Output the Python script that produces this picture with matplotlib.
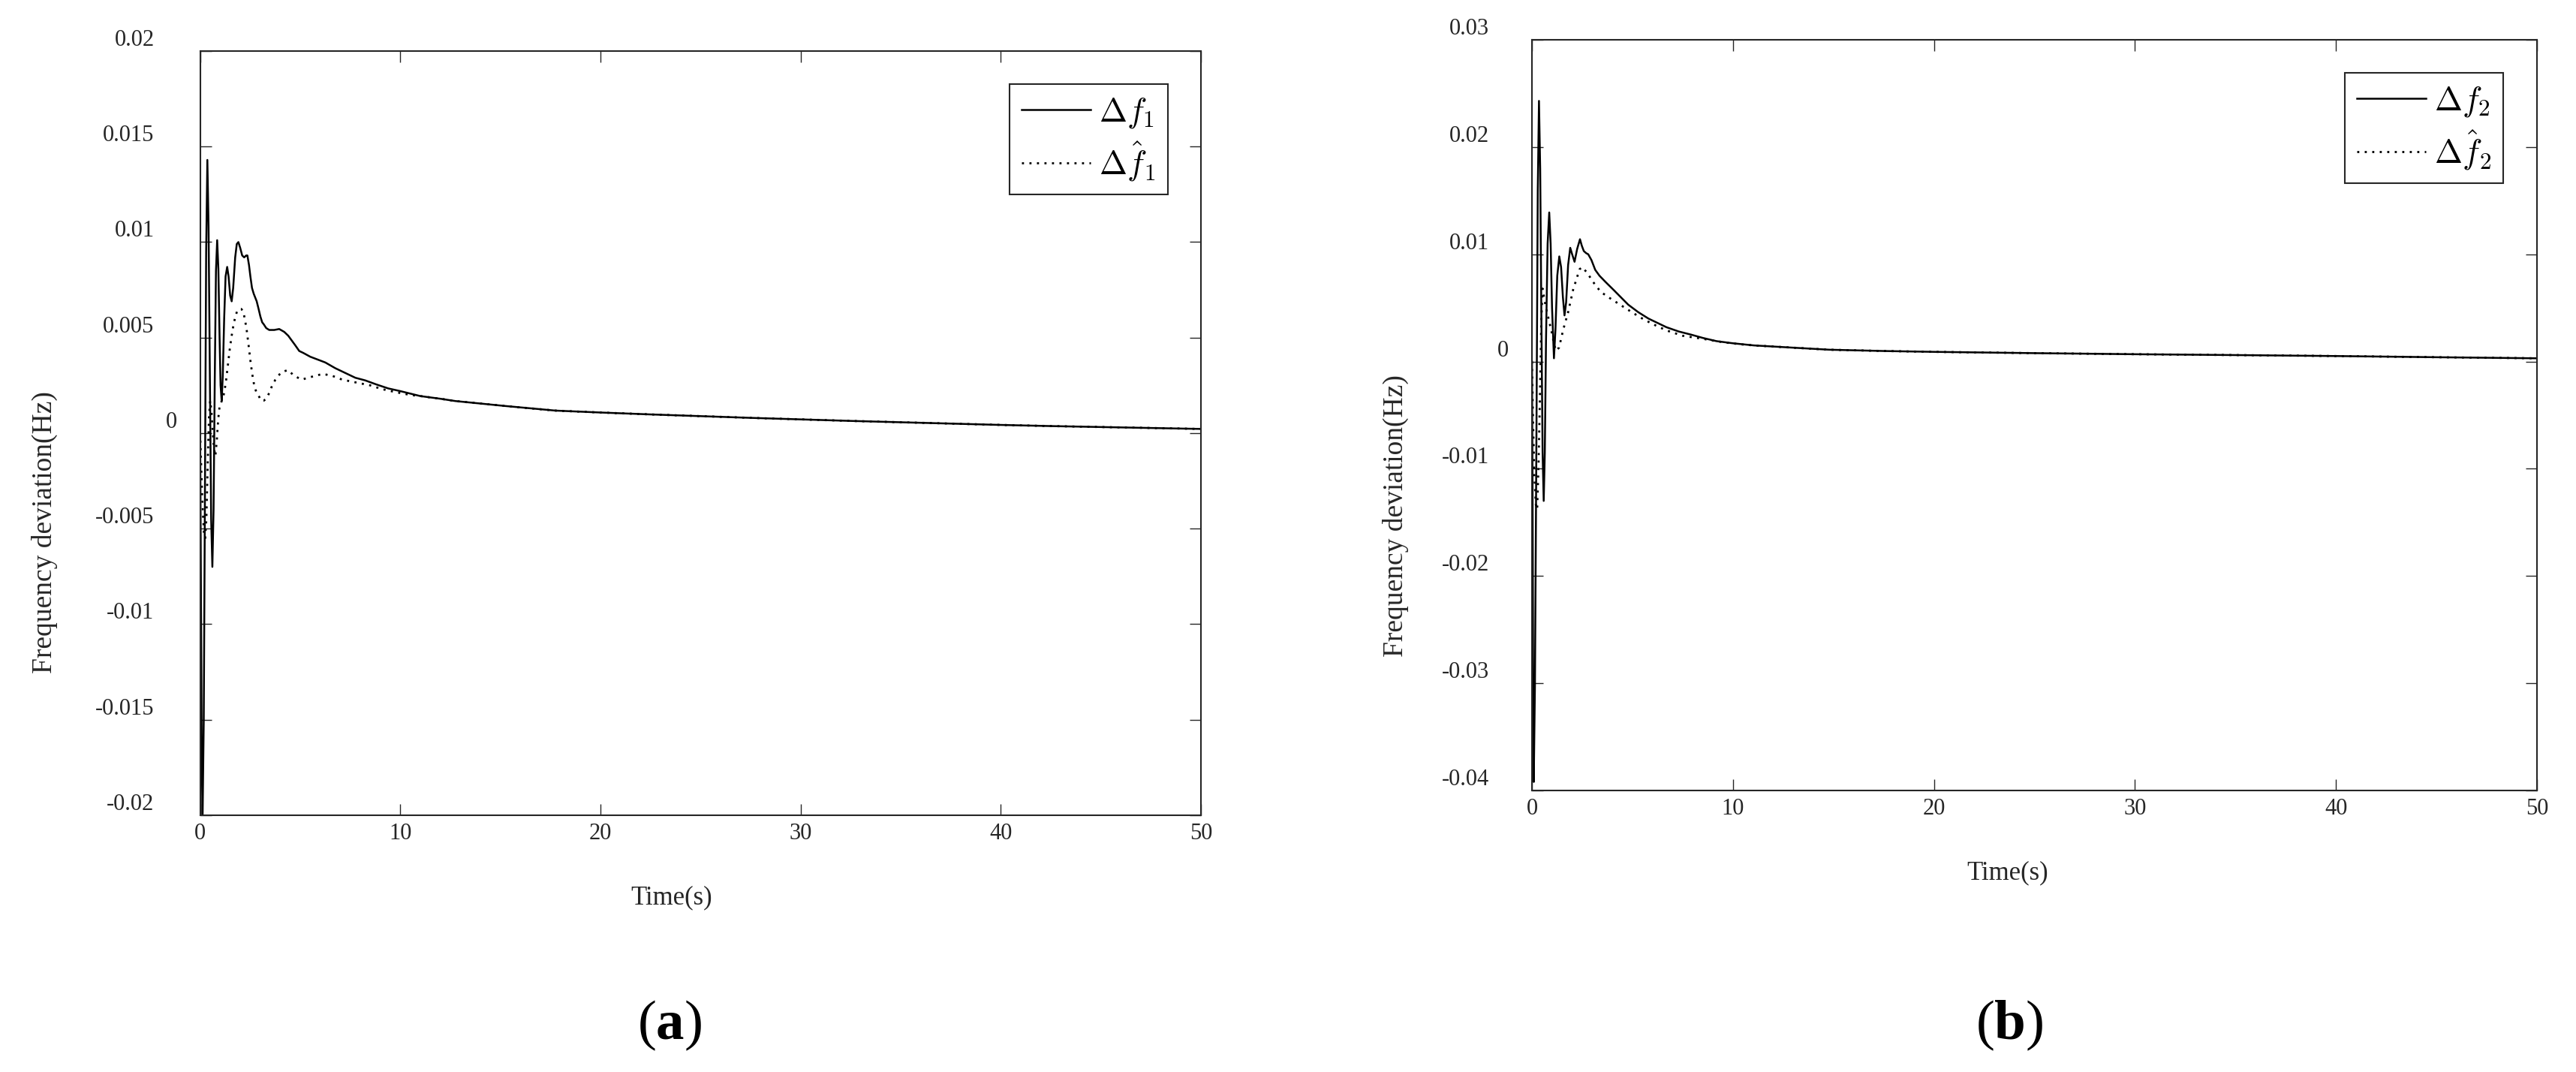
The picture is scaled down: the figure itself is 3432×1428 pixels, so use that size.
import matplotlib
matplotlib.use("Agg")
import matplotlib.pyplot as plt
from matplotlib.transforms import ScaledTranslation

plt.rcParams['font.family'] = 'Liberation Serif'
plt.rcParams['mathtext.fontset'] = 'cm'
plt.rcParams['mathtext.rm'] = 'Liberation Serif'
plt.rcParams['mathtext.bf'] = 'Liberation Serif:bold'
plt.rcParams['axes.unicode_minus'] = False

AXCOLOR = '#262626'

# ---------------- data ----------------
# panel (a): area 1
t_a_solid = [0, 0.04, 0.08, 0.12, 0.18, 0.24, 0.30, 0.36, 0.42, 0.48, 0.55, 0.61,
             0.67, 0.73, 0.79, 0.85, 0.91, 0.97, 1.02, 1.075, 1.13, 1.2, 1.27, 1.35,
             1.42, 1.5, 1.575, 1.65, 1.75, 1.83, 1.91, 2.0, 2.1, 2.2, 2.3, 2.36,
             2.44, 2.51, 2.59, 2.675, 2.75, 2.825, 2.92, 3.01, 3.1, 3.175, 3.3, 3.45,
             3.7, 3.95, 4.2, 4.4, 4.575, 4.75, 4.95, 5.15, 5.325, 5.5, 5.75, 6.0,
             6.25, 6.75, 7.25, 7.75, 8.25, 8.8, 9.4, 10.0, 11.0, 12.0, 12.75, 14.0,
             15.25, 16.5, 17.75, 20, 22.5, 25, 27.5, 30, 32.5, 35, 37.5, 40,
             42.5, 45, 47.5, 50]
f_a_solid = [0, -0.008, -0.017, -0.0203, -0.015, -0.003, 0.0095, 0.0143, 0.0108, 0.0036, -0.0045, -0.0070,
             -0.0040, 0.0028, 0.0085, 0.0101, 0.0086, 0.0050, 0.0025, 0.0017, 0.0030, 0.0060, 0.0082, 0.0087,
             0.0082, 0.0072, 0.0069, 0.0076, 0.0092, 0.0099, 0.0100, 0.0097, 0.0093, 0.0092, 0.0093, 0.0093,
             0.0088, 0.0082, 0.0076, 0.0073, 0.0071, 0.0069, 0.0065, 0.0061, 0.0058, 0.0057, 0.0055, 0.0054,
             0.0054, 0.00545, 0.0053, 0.0051, 0.00485, 0.0046, 0.0043, 0.0042, 0.0041, 0.0040, 0.0039, 0.0038,
             0.0037, 0.0034, 0.00315, 0.0029, 0.00276, 0.00255, 0.00234, 0.0022, 0.00194, 0.0018, 0.00168, 0.00155,
             0.00142, 0.0013, 0.00118, 0.00108, 0.00098, 0.00089, 0.0008, 0.00072, 0.00064, 0.00057, 0.0005, 0.00043,
             0.00037, 0.00032, 0.00027, 0.00022]

t_a_est = [0, 0.06, 0.12, 0.19, 0.25, 0.31, 0.38, 0.44, 0.5, 0.56, 0.62, 0.69,
           0.76, 0.83, 0.9, 0.97, 1.05, 1.2, 1.3, 1.39, 1.48, 1.575, 1.67, 1.76,
           1.85, 1.95, 2.05, 2.14, 2.23, 2.325, 2.42, 2.51, 2.6, 2.7, 2.82, 2.95,
           3.05, 3.175, 3.3, 3.45, 3.6, 3.76, 3.9, 4.075, 4.39, 4.7, 5.075, 5.39,
           5.75, 6.125, 6.6, 7.1, 7.8, 8.5, 9.1, 9.75, 10.5, 11.0, 12.0, 12.75,
           14.0, 15.25, 16.5, 17.75, 20, 22.5, 25, 27.5, 30, 32.5, 35, 37.5,
           40, 42.5, 45, 47.5, 50]
f_a_est = [0, -0.002, -0.0038, -0.0052, -0.0055, -0.0045, -0.0015, 0.0008, 0.0017, 0.0012, 0.0002, -0.0008,
           -0.0012, -0.0004, 0.0007, 0.0014, 0.0016, 0.0021, 0.0028, 0.0036, 0.0044, 0.0051, 0.0057, 0.0061,
           0.0064, 0.0065, 0.0065, 0.0064, 0.0060, 0.0054, 0.0046, 0.0038, 0.0031, 0.0025, 0.0021, 0.0019,
           0.0017, 0.0017, 0.0018, 0.0021, 0.0025, 0.0028, 0.0030, 0.0032, 0.0033, 0.0030, 0.0028, 0.0029,
           0.0030, 0.0031, 0.0030, 0.0028, 0.00265, 0.0025, 0.0023, 0.00215, 0.0020, 0.00194, 0.0018, 0.00168,
           0.00155, 0.00142, 0.0013, 0.00118, 0.00108, 0.00098, 0.00089, 0.0008, 0.00072, 0.00064, 0.00057, 0.0005,
           0.00043, 0.00037, 0.00032, 0.00027, 0.00022]

# panel (b): area 2
t_b_solid = [0, 0.03, 0.06, 0.09, 0.15, 0.22, 0.29, 0.35, 0.41, 0.47, 0.53, 0.585,
             0.64, 0.7, 0.78, 0.86, 0.93, 1.0, 1.095, 1.17, 1.26, 1.36, 1.45, 1.54,
             1.62, 1.7, 1.8, 1.905, 2.0, 2.12, 2.25, 2.39, 2.48, 2.58, 2.7, 2.8,
             2.96, 3.15, 3.36, 3.67, 4.05, 4.42, 4.79, 5.29, 5.8, 6.69, 7.3, 7.93,
             8.5, 9.18, 10.0, 11.05, 12.9, 14.8, 17.5, 20, 25, 30, 35, 40,
             45, 50]
f_b_solid = [0, -0.012, -0.030, -0.0392, -0.030, -0.008, 0.016, 0.0243, 0.0180, 0.0040, -0.0085, -0.0130,
             -0.0085, 0.0020, 0.0110, 0.0139, 0.0110, 0.0050, 0.0003, 0.0030, 0.0080, 0.0098, 0.0088, 0.0060,
             0.0043, 0.0055, 0.0090, 0.0106, 0.0100, 0.0093, 0.0105, 0.0114, 0.0108, 0.0103, 0.0101, 0.0100,
             0.00946, 0.00854, 0.0080, 0.0074, 0.0067, 0.0060, 0.0053, 0.0046, 0.0040, 0.0032, 0.0028, 0.0025,
             0.0022, 0.0019, 0.0017, 0.0015, 0.0013, 0.0011, 0.00098, 0.0009, 0.00078, 0.00068, 0.0006, 0.00051,
             0.0004, 0.0003]

t_b_est = [0, 0.06, 0.12, 0.19, 0.26, 0.33, 0.4, 0.47, 0.53, 0.6, 0.7, 0.85,
           1.0, 1.1, 1.2, 1.35, 1.56, 1.8, 2.05, 2.37, 2.49, 2.74, 3.05, 3.42,
           3.8, 4.3, 4.8, 5.4, 6.0, 6.69, 7.5, 8.55, 9.5, 10.4, 11.05, 12.9,
           14.8, 17.5, 20, 25, 30, 35, 40, 45, 50]
f_b_est = [0, -0.006, -0.0105, -0.0133, -0.0138, -0.0095, -0.0030, 0.0040, 0.0068, 0.0060, 0.0050, 0.0038,
           0.0026, 0.0016, 0.0010, 0.0013, 0.0030, 0.0046, 0.0067, 0.0086, 0.0088, 0.0083, 0.0074, 0.0065,
           0.0060, 0.0054, 0.0048, 0.0041, 0.0035, 0.0029, 0.0024, 0.0021, 0.0018, 0.0016, 0.0015, 0.0013,
           0.0011, 0.00098, 0.0009, 0.00078, 0.00068, 0.0006, 0.00051, 0.0004, 0.0003]

x_ticks = [0, 10, 20, 30, 40, 50]
y_ticks_a = [-0.02, -0.015, -0.01, -0.005, 0, 0.005, 0.01, 0.015, 0.02]
y_labels_a = ['-0.02', '-0.015', '-0.01', '-0.005', '0', '0.005', '0.01', '0.015', '0.02']
y_ticks_b = [-0.04, -0.03, -0.02, -0.01, 0, 0.01, 0.02, 0.03]
y_labels_b = ['-0.04', '-0.03', '-0.02', '-0.01', '0', '0.01', '0.02', '0.03']

# ---------------- figure ----------------
fig = plt.figure(figsize=(34.32, 14.28), dpi=100)
ax_a = fig.add_axes([0.0777, 0.2395, 0.3885, 0.7129])
ax_b = fig.add_axes([0.5947, 0.2626, 0.3901, 0.7003])


def style_panel(ax, yticks, ylabels, ylim, ypad, zero_shift, ylab_xy, xlab_xy):
    ax.set_xlim(0, 50)
    ax.set_ylim(*ylim)
    ax.set_xticks(x_ticks)
    ax.set_xticklabels([str(v) for v in x_ticks])
    ax.set_yticks(yticks)
    ax.set_yticklabels(ylabels)
    for s in ax.spines.values():
        s.set_color(AXCOLOR)
        s.set_linewidth(1.5)
    ax.tick_params(axis='both', direction='in', length=11, width=1.0, color=AXCOLOR,
                   labelcolor=AXCOLOR, labelsize=22, top=True, right=True)
    ax.tick_params(axis='x', pad=7)
    ax.tick_params(axis='y', pad=ypad)
    # tick labels in the original sit a bit above their ticks,
    # and the lone "0" sits closer to the axis than the others
    for tick, lab in zip(ax.yaxis.get_major_ticks(), ylabels):
        tick.label1.set_verticalalignment('bottom')
        if lab == '0':
            tick.label1.set_transform(tick.label1.get_transform() +
                                      ScaledTranslation(zero_shift, 0, fig.dpi_scale_trans))
    ax.set_xlabel('Time(s)', fontsize=25, color=AXCOLOR)
    ax.set_ylabel('Frequency deviation(Hz)', fontsize=27, color=AXCOLOR)
    ax.xaxis.set_label_coords(*xlab_xy)
    ax.yaxis.set_label_coords(*ylab_xy)


# panel (a)
ax_a.plot(t_a_solid, f_a_solid, '-', color='black', linewidth=1.8, label=r'$\Delta f_1$')
ax_a.plot(t_a_est, f_a_est, linestyle=(0, (1, 2.6)), color='black', linewidth=2.0,
          label=r'$\Delta \hat{f}_1$')
style_panel(ax_a, y_ticks_a, y_labels_a, (-0.02, 0.02), 44, 0.30, (-0.142, 0.37), (0.471, -0.092))

# panel (b)
ax_b.plot(t_b_solid, f_b_solid, '-', color='black', linewidth=1.8, label=r'$\Delta f_2$')
ax_b.plot(t_b_est, f_b_est, linestyle=(0, (1, 2.6)), color='black', linewidth=2.0,
          label=r'$\Delta \hat{f}_2$')
style_panel(ax_b, y_ticks_b, y_labels_b, (-0.04, 0.03), 41, 0.26, (-0.1225, 0.366), (0.473, -0.093))

for ax in (ax_a, ax_b):
    leg = ax.legend(loc='upper right', fontsize=32, borderaxespad=1.0, handlelength=2.07,
                    handletextpad=0.25, borderpad=0.35, labelspacing=0.3,
                    fancybox=False, framealpha=1.0)
    leg.get_frame().set_edgecolor(AXCOLOR)
    leg.get_frame().set_linewidth(1.5)

# sub-figure captions
fig.text(0.260, 0.0434, r'$(\mathbf{a})$', fontsize=54, ha='center', va='center',
         math_fontfamily='custom')
fig.text(0.780, 0.0434, r'$(\mathbf{b})$', fontsize=54, ha='center', va='center',
         math_fontfamily='custom')

fig.savefig('out.png', dpi=100)
